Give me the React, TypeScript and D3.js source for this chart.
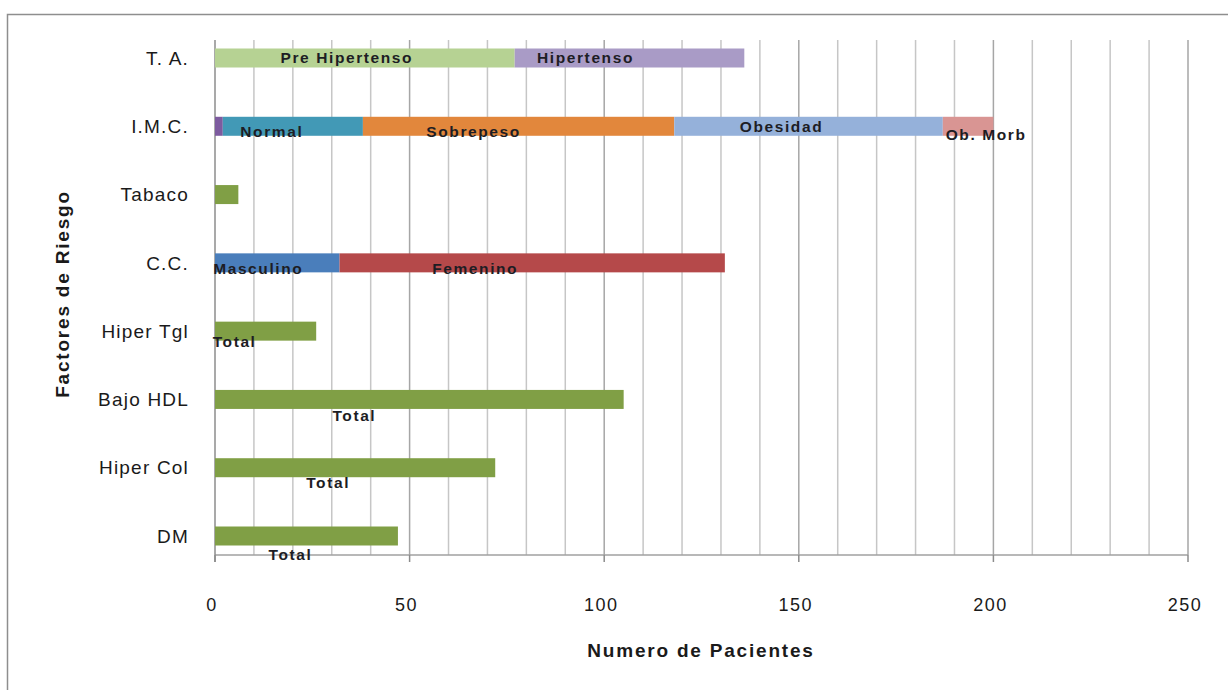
import React, { useEffect, useRef } from 'react'
import * as d3 from 'd3'

// categories, top to bottom
const categories = ['T. A.', 'I.M.C.', 'Tabaco', 'C.C.', 'Hiper Tgl', 'Bajo HDL', 'Hiper Col', 'DM']

// stacked series per category
const taLabels = ['Pre Hipertenso', 'Hipertenso']
const taValues = [77, 59]
const imcLabels = ['Bajo Peso', 'Normal', 'Sobrepeso', 'Obesidad', 'Ob. Morb']
const imcValues = [2, 36, 80, 69, 13]
const tabacoValues = [6]
const ccLabels = ['Masculino', 'Femenino']
const ccValues = [32, 99]
const totalCategories = ['Hiper Tgl', 'Bajo HDL', 'Hiper Col', 'DM']
const totalValues = [26, 105, 72, 47]

const xTicks = [0, 50, 100, 150, 200, 250]

const colors = {
	'Pre Hipertenso': '#b6d293',
	Hipertenso: '#a99bc6',
	'Bajo Peso': '#7d5b9f',
	Normal: '#4299b6',
	Sobrepeso: '#e2873c',
	Obesidad: '#95b1da',
	'Ob. Morb': '#d99593',
	Masculino: '#4a7ebb',
	Femenino: '#b5494a',
	Total: '#809f45',
}

// where excel left the data labels, relative to the segment centre
const labelNudge = {
	'T. A.|Pre Hipertenso': [-18, 0],
	'T. A.|Hipertenso': [-44, 0],
	'I.M.C.|Normal': [-21, 5],
	'I.M.C.|Sobrepeso': [-45, 5],
	'I.M.C.|Obesidad': [-27, 0],
	'I.M.C.|Ob. Morb': [18, 8],
	'C.C.|Masculino': [-19, 6],
	'C.C.|Femenino': [-57, 6],
	'Hiper Tgl|Total': [-31, 10],
	'Bajo HDL|Total': [-65, 16],
	'Hiper Col|Total': [-27, 15],
	'DM|Total': [-16, 19],
}

const font = '"Liberation Sans", Arial, sans-serif'

const buildRows = () => {
	const rows = []
	const addStack = (cat, labels, values, showLabel = true) => {
		const ends = Array.from(d3.cumsum(values))
		values.forEach((v, i) => {
			rows.push({
				cat,
				name: labels[i],
				x0: ends[i] - v,
				x1: ends[i],
				label: showLabel && labels[i] !== 'Bajo Peso' ? labels[i] : null,
			})
		})
	}
	addStack('T. A.', taLabels, taValues)
	addStack('I.M.C.', imcLabels, imcValues)
	addStack('Tabaco', ['Total'], tabacoValues, false)
	addStack('C.C.', ccLabels, ccValues)
	totalCategories.forEach((c, i) => addStack(c, ['Total'], [totalValues[i]]))
	return rows
}

const Chart = () => {
	const ref = useRef(null)

	useEffect(() => {
		document.body.style.margin = '0'
		const width = 1228
		const height = 690
		const root = d3.select(ref.current)
		root.selectAll('*').remove()
		const svg = root.append('svg').attr('width', width).attr('height', height).style('display', 'block')

		svg.append('rect').attr('width', width).attr('height', height).attr('fill', '#fff')
		// chart frame, runs past the right and bottom edges
		svg.append('rect')
			.attr('x', 7.5)
			.attr('y', 14.5)
			.attr('width', width + 20)
			.attr('height', height + 20)
			.attr('fill', 'none')
			.attr('stroke', '#8e8e8e')
			.attr('stroke-width', 1.5)

		const plotTop = 40
		const plotBottom = 555
		const xScale = d3.scaleLinear().domain([0, 250]).range([215, 1188])
		const yScale = d3.scalePoint().domain(categories).range([58, 536])
		const barH = 19

		const grid = svg.append('g')
		grid.selectAll('line')
			.data(d3.range(10, 251, 10))
			.join('line')
			.attr('x1', d => xScale(d))
			.attr('x2', d => xScale(d))
			.attr('y1', plotTop)
			.attr('y2', plotBottom)
			.attr('stroke', d => (d % 50 === 0 ? '#a6a6a6' : '#c6c6c6'))
			.attr('stroke-width', 1.5)

		// axes lines and major ticks
		svg.append('line')
			.attr('x1', xScale(0))
			.attr('x2', xScale(250))
			.attr('y1', plotBottom)
			.attr('y2', plotBottom)
			.attr('stroke', '#a0a0a0')
			.attr('stroke-width', 1.5)
		svg.append('g')
			.selectAll('line')
			.data(xTicks)
			.join('line')
			.attr('x1', d => xScale(d))
			.attr('x2', d => xScale(d))
			.attr('y1', plotBottom)
			.attr('y2', plotBottom + 7)
			.attr('stroke', '#8c8c8c')
			.attr('stroke-width', 1.5)
		svg.append('line')
			.attr('x1', xScale(0))
			.attr('x2', xScale(0))
			.attr('y1', plotTop)
			.attr('y2', plotBottom + 7)
			.attr('stroke', '#8c8c8c')
			.attr('stroke-width', 1.5)

		const rows = buildRows()
		svg.append('g')
			.selectAll('rect')
			.data(rows)
			.join('rect')
			.attr('x', d => xScale(d.x0))
			.attr('y', d => yScale(d.cat) - barH / 2)
			.attr('width', d => xScale(d.x1) - xScale(d.x0))
			.attr('height', barH)
			.attr('fill', d => colors[d.name])

		svg.append('g')
			.selectAll('text')
			.data(rows.filter(d => d.label))
			.join('text')
			.attr('x', d => (xScale(d.x0) + xScale(d.x1)) / 2 + (labelNudge[d.cat + '|' + d.name] || [0, 0])[0])
			.attr('y', d => yScale(d.cat) + (labelNudge[d.cat + '|' + d.name] || [0, 0])[1])
			.attr('dy', '0.35em')
			.attr('text-anchor', 'middle')
			.attr('font-family', font)
			.attr('font-size', 15.5)
			.attr('font-weight', 'bold')
			.attr('letter-spacing', 1.6)
			.attr('fill', '#1d1d24')
			.text(d => d.label)

		// category labels
		svg.append('g')
			.selectAll('text')
			.data(categories)
			.join('text')
			.attr('x', 189)
			.attr('y', d => yScale(d))
			.attr('dy', '0.35em')
			.attr('text-anchor', 'end')
			.attr('font-family', font)
			.attr('font-size', 19)
			.attr('letter-spacing', 1.2)
			.attr('fill', '#1a1a1a')
			.text(d => d)

		// x tick labels
		svg.append('g')
			.selectAll('text')
			.data(xTicks)
			.join('text')
			.attr('x', d => xScale(d) - 3)
			.attr('y', 605)
			.attr('dy', '0.35em')
			.attr('text-anchor', 'middle')
			.attr('font-family', font)
			.attr('font-size', 18)
			.attr('letter-spacing', 1.5)
			.attr('fill', '#1a1a1a')
			.text(d => d)

		svg.append('text')
			.text('Numero de Pacientes')
			.attr('x', 701)
			.attr('y', 650)
			.attr('dy', '0.35em')
			.attr('text-anchor', 'middle')
			.attr('font-family', font)
			.attr('font-size', 19)
			.attr('font-weight', 'bold')
			.attr('letter-spacing', 1.8)
			.attr('fill', '#1a1a1a')

		svg.append('text')
			.text('Factores de Riesgo')
			.attr('transform', 'translate(62, 294) rotate(-90)')
			.attr('dy', '0.35em')
			.attr('text-anchor', 'middle')
			.attr('font-family', font)
			.attr('font-size', 19)
			.attr('font-weight', 'bold')
			.attr('letter-spacing', 1.8)
			.attr('fill', '#1a1a1a')
	}, [])

	return <div ref={ref}></div>
}

export default function App() {
	return <Chart />
}
